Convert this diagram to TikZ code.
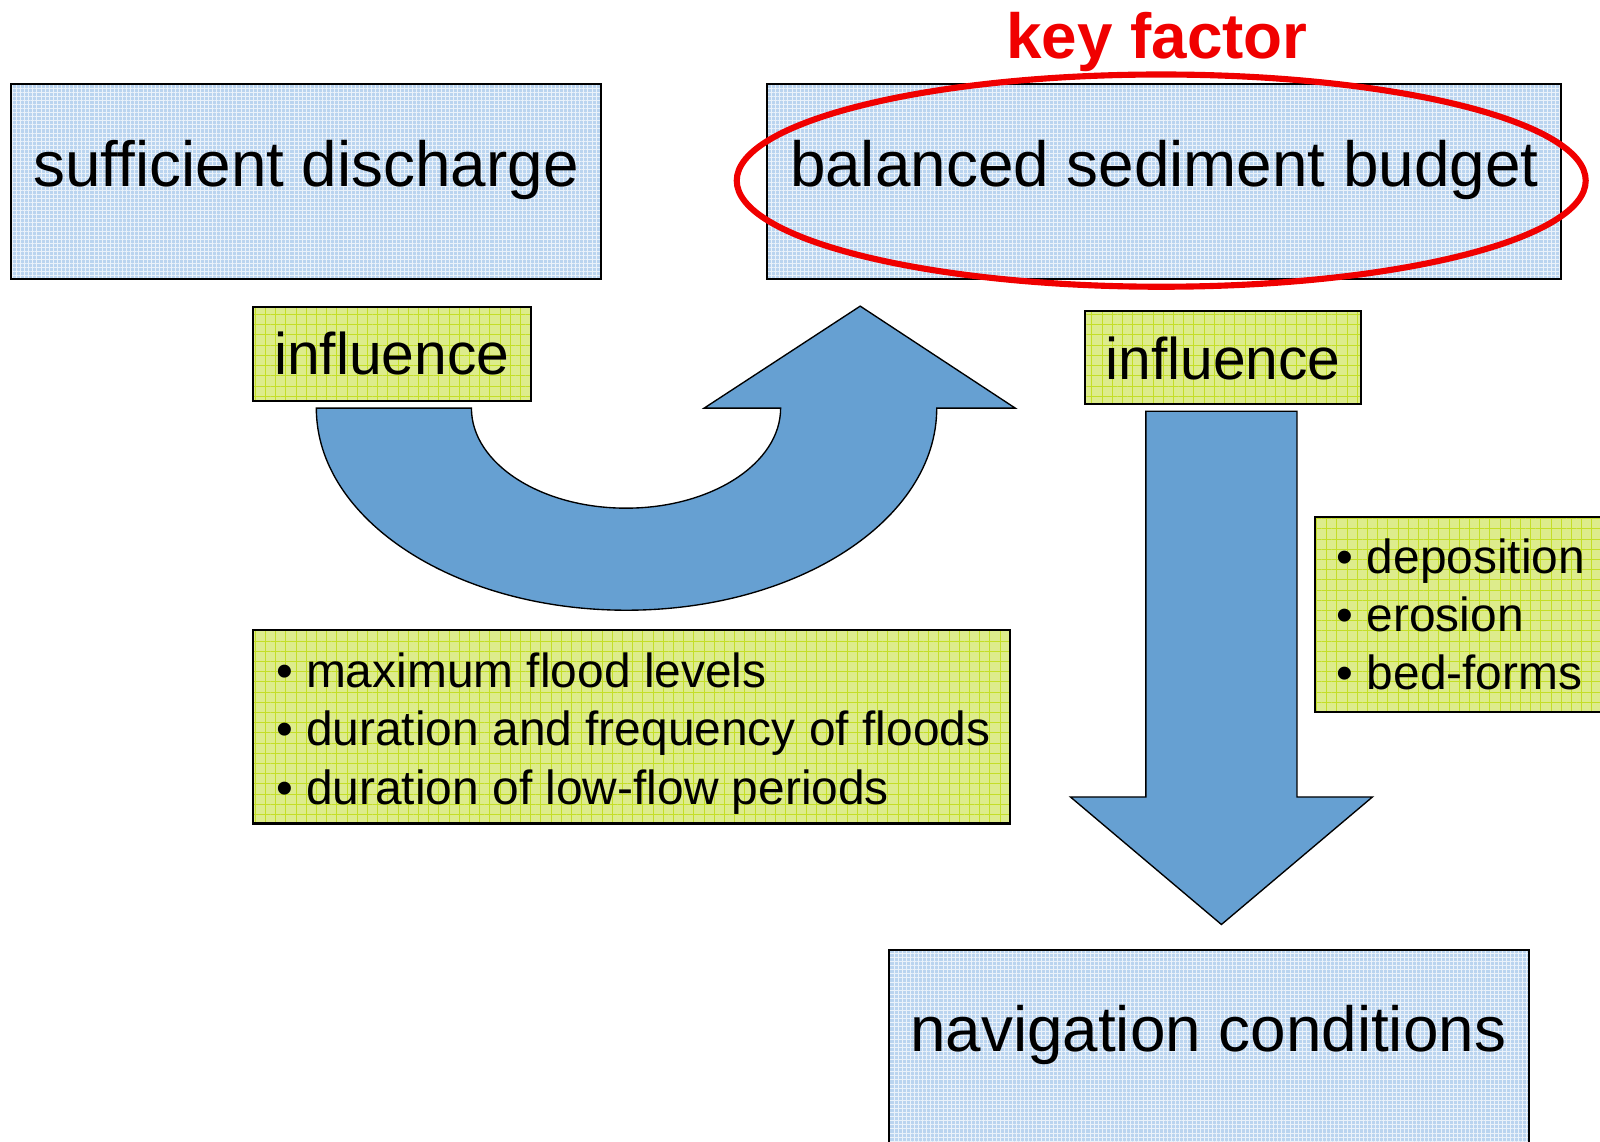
\documentclass[tikz,border=0pt]{standalone}
\usepackage{fontspec}
\setmainfont{Liberation Sans}
\usetikzlibrary{patterns.meta}

\definecolor{boxblue}{RGB}{186,212,239}
\definecolor{boxgreen}{RGB}{221,236,140}
\definecolor{gridgreen}{RGB}{196,222,40}
\definecolor{arrowblue}{RGB}{102,160,210}
\definecolor{keyred}{RGB}{240,0,0}

\tikzset{every picture/.style={line width=0.75pt}}

\begin{document}
\begin{tikzpicture}[x=0.75pt,y=0.75pt,yscale=-1,xscale=1,
  bluebox/.style={draw, line width=1.5pt, inner sep=0pt, outer sep=0pt,
    preaction={fill=boxblue},
    preaction={pattern={Lines[angle=0,distance=3pt,line width=0.45pt]}, pattern color=white!70!boxblue},
    pattern={Lines[angle=90,distance=3pt,line width=0.45pt]}, pattern color=white!70!boxblue},
  greenbox/.style={draw, line width=1.5pt, inner sep=0pt, outer sep=0pt,
    preaction={fill=boxgreen},
    preaction={pattern={Lines[angle=0,distance=7.5pt,line width=0.6pt]}, pattern color=gridgreen},
    pattern={Lines[angle=90,distance=7.5pt,line width=0.6pt]}, pattern color=gridgreen},
  bigtext/.style={inner sep=0pt, font=\fontsize{46.9}{56}\selectfont},
  midtext/.style={inner sep=0pt, font=\fontsize{43.2}{50}\selectfont},
  listtext/.style={inner sep=0pt, font=\fontsize{35.2}{42.75}\selectfont},
  blockarrow/.style={draw, line width=1pt, line join=miter, fill=arrowblue}]
\useasboundingbox (0,0) rectangle (1568,1118.2);

%Rectangles
\node (discharge) [bluebox, minimum width=433.5pt, minimum height=143.25pt] at (300,177.5) {};
\node (budget) [bluebox, minimum width=583.5pt, minimum height=143.25pt] at (1141,177.5) {};
\node (nav) [bluebox, minimum width=470.25pt, minimum height=165pt] at (1184.5,1041) {};
\node (infl1) [greenbox, minimum width=204pt, minimum height=69pt] at (384,347) {};
\node (infl2) [greenbox, minimum width=203.25pt, minimum height=68.25pt] at (1198.5,350.5) {};
\node (floods) [greenbox, minimum width=556.5pt, minimum height=142.5pt] at (619,712) {};
\node (morph) [greenbox, minimum width=260pt, minimum height=143.25pt] at (1462,602.5) {};

%Shape: Curved Arrow
\draw [blockarrow] (310,400) -- (462,400) arc [start angle=180, end angle=0, x radius=151.5, y radius=98] -- (690,400) -- (843,300) -- (995,400) -- (918,400) arc [start angle=0, end angle=180, x radius=304, y radius=198] -- cycle ;
%Shape: Down Arrow
\draw [blockarrow] (1123,403) -- (1271,403) -- (1271,781) -- (1345,781) -- (1197,906) -- (1049,781) -- (1123,781) -- cycle ;

%Shape: Ellipse
\draw [color=keyred, line width=4.5pt] (1138,177) ellipse [x radius=416, y radius=104] ;

% Text Node
\node (distxt) [bigtext, anchor=base] at (300,183) {sufficient discharge};
\node (budtxt) [bigtext, anchor=base] at (1141,183) {balanced sediment budget};
\node (navtxt) [bigtext, anchor=base] at (1184,1030) {navigation conditions};
\node (key) [bigtext, anchor=base, font=\fontsize{46.9}{56}\bfseries, text=keyred] at (1134,57) {key factor};
\node (infltxt1) [midtext, anchor=base] at (384,367) {influence};
\node (infltxt2) [midtext, anchor=base] at (1198.5,372) {influence};
% Text Node
\foreach \entry [count=\i] in {maximum flood levels, duration and frequency of floods, duration of low-flow periods}
  \node (flood\i) [listtext, anchor=base west] at (270,617+57*\i) {• \entry};
\foreach \entry [count=\i] in {deposition, erosion, bed-forms}
  \node (morph\i) [listtext, anchor=base west] at (1309.5,505+57*\i) {• \entry};

\end{tikzpicture}
\end{document}
